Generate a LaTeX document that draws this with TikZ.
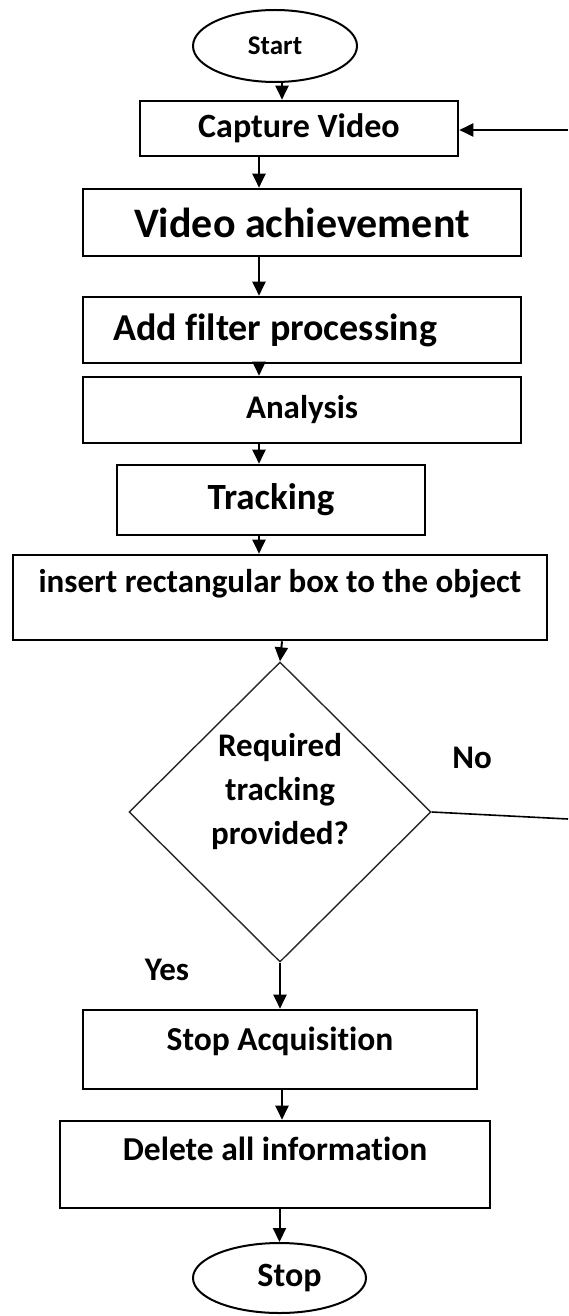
\documentclass[tikz,border=0pt]{standalone}
\usepackage{fontspec}
\setmainfont{Carlito}[Ligatures=NoCommon]
\usetikzlibrary{shapes.geometric,arrows.meta}

\begin{document}
\begin{tikzpicture}[x=0.5pt,y=-0.5pt,
        box/.style={rectangle, draw, line width=1.3pt, inner sep=0pt},
        term/.style={ellipse, draw, line width=1pt, inner sep=0pt},
        fsize/.style={font=\bfseries\fontsize{#1}{22}\selectfont},
        flow/.style={-{Triangle[length=7pt,width=6.5pt]}, line width=1pt}]
        \useasboundingbox (0,0) rectangle (568,1316);

        % blocks, top to bottom
        \node[term, minimum width=82pt, minimum height=36pt, fsize=13.5] (start) at (275,46) {Start};
        \node[box, minimum width=159pt, minimum height=27.5pt, fsize=17] (cap) at (299,128.5) {Capture Video};
        \node[box, minimum width=219pt, minimum height=33.5pt, fsize=21] (ach) at (302,222.5) {Video achievement};
        \node[box, minimum width=219pt, minimum height=33pt, fsize=19] (filt) at (302,330) {Add filter processing\hspace*{27pt}};
        \node[box, minimum width=219pt, minimum height=33pt, fsize=16.5] (ana) at (302,410) {Analysis};
        \node[box, minimum width=154pt, minimum height=35pt, fsize=18.5] (trk) at (271,500) {Tracking};
        \node[box, minimum width=267pt, minimum height=42.5pt, fsize=16.5, text height=12pt, text depth=17.5pt] (ins) at (280,597.5) {insert rectangular box to the object};
        \node[diamond, draw=black!85, line width=0.7pt, inner sep=0pt, minimum width=151pt, minimum height=150pt, align=center, fsize=16.5, text depth=23pt] (dia) at (280,812) {Required\\tracking\\provided?};
        \node[fsize=16.5] (yes) at (167,970) {Yes};
        \node[fsize=16.5] (no) at (472,758) {No};
        \node[box, minimum width=197pt, minimum height=39.5pt, fsize=16.75, text height=12.5pt, text depth=11.2pt] (acq) at (280,1049.5) {Stop Acquisition};
        \node[box, minimum width=215pt, minimum height=43.5pt, fsize=16.75, text height=12.5pt, text depth=16.2pt] (del) at (275,1164.5) {Delete all information};
        \node[term, minimum width=86.5pt, minimum height=35pt, fsize=17] (stop) at (279.5,1278) {\hspace*{10pt}Stop};

        % the two vertical runs of arrows and the loose ends at the right
        \coordinate (upper) at (259,0);
        \coordinate (lower) at (282,0);
        \coordinate (back) at (568,130);
        \coordinate (noend) at (568,819);

        \draw[flow] (start.south -| lower) -- (cap.north -| lower);
        \draw[flow] (cap.south -| upper) -- (ach.north -| upper);
        \draw[flow] (ach.south -| upper) -- (filt.north -| upper);
        \draw[flow] (filt.south -| upper) -- (ana.north -| upper);
        \draw[flow] (ana.south -| upper) -- (trk.north -| upper);
        \draw[flow] (trk.south -| upper) -- (ins.north -| upper);
        \draw[flow] (ins.south -| lower) -- (dia.north);
        \draw[flow] (dia.south) -- (acq.north -| dia.south);
        \draw[flow] (acq.south -| lower) -- (del.north -| lower);
        \draw[flow] (del.south -| stop.north) -- (stop.north);
        \draw[flow] (back) -- (cap.east |- back);
        \draw[line width=0.8pt] (dia.east) -- (noend);
    \end{tikzpicture}
\end{document}
